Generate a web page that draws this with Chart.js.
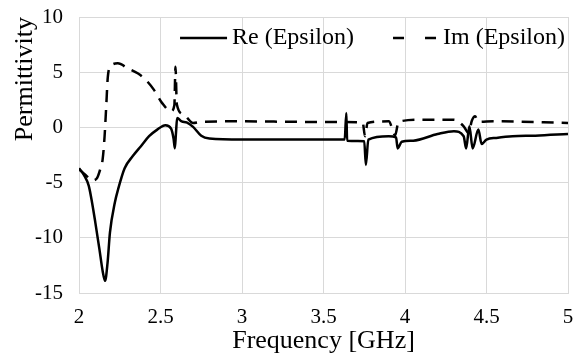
<!DOCTYPE html>
<html>
<head>
<meta charset="utf-8">
<script src="https://cdn.jsdelivr.net/npm/chart.js@4"></script>
<style>
  html, body { margin: 0; padding: 0; background: #fff; }
  #wrap { width: 578px; height: 360px; }
</style>
</head>
<body>
<div id="wrap"><canvas id="permittivity" width="578" height="360"></canvas></div>
<script>
const ctx = document.getElementById("permittivity").getContext("2d");

// Real part of epsilon: frequency (GHz) / value
const reFreq = [2.00, 2.03, 2.06, 2.08, 2.10, 2.125, 2.145, 2.16, 2.175, 2.19, 2.22, 2.24, 2.28, 2.33, 2.38, 2.43, 2.48, 2.53, 2.565, 2.58, 2.588, 2.595, 2.602, 2.63, 2.66, 2.70, 2.75, 2.80, 3.00, 3.30, 3.63, 3.64, 3.645, 3.75, 3.76, 3.775, 3.90, 3.945, 3.955, 3.98, 4.05, 4.20, 4.30, 4.36, 4.375, 4.395, 4.415, 4.45, 4.47, 4.50, 4.56, 4.66, 4.80, 5.00];
const reVal = [-3.7, -4.3, -5.3, -6.8, -8.6, -11.0, -13.0, -13.9, -12.3, -9.5, -6.8, -5.6, -3.7, -2.6, -1.7, -0.8, -0.2, 0.2, -0.1, -1.0, -1.9, -0.5, 0.85, 0.55, 0.45, 0.05, -0.75, -1.0, -1.1, -1.1, -1.1, 1.3, -1.2, -1.25, -3.4, -1.1, -0.8, -0.9, -1.9, -1.3, -1.2, -0.6, -0.35, -0.8, -1.9, 0.1, -1.9, -0.2, -1.5, -1.1, -0.95, -0.8, -0.75, -0.6];

// Imaginary part of epsilon
const imFreq = [2.00, 2.04, 2.08, 2.11, 2.13, 2.145, 2.157, 2.167, 2.177, 2.197, 2.238, 2.30, 2.36, 2.40, 2.46, 2.51, 2.565, 2.585, 2.592, 2.60, 2.64, 2.70, 2.75, 3.00, 3.40, 3.74, 3.755, 3.77, 3.90, 3.94, 3.96, 4.10, 4.30, 4.36, 4.39, 4.41, 4.43, 4.45, 4.55, 5.00];
const imVal = [-3.8, -4.3, -4.8, -4.6, -3.8, -2.9, -0.8, 1.9, 4.6, 5.6, 5.8, 5.35, 4.9, 4.45, 3.4, 2.2, 1.45, 2.0, 5.5, 2.1, 1.2, 0.4, 0.5, 0.55, 0.5, 0.45, -0.8, 0.4, 0.55, -0.7, 0.5, 0.7, 0.7, 0.1, -0.5, 0.6, 1.0, 0.5, 0.55, 0.4];

const xTicks = [2, 2.5, 3, 3.5, 4, 4.5, 5];
const yTicks = [-15, -10, -5, 0, 5, 10];

const seriesLabels = ["Re (Epsilon)", "Im (Epsilon)"];

const toPoints = (xs, ys) => xs.map((x, i) => ({ x: x, y: ys[i] }));

const serif = "'Liberation Serif', 'Times New Roman', serif";
const gridColor = "#d9d9d9";

// legend drawn inside the plot, top right
const innerLegend = {
  id: "innerLegend",
  afterDraw(chart) {
    const c = chart.ctx;
    const area = chart.chartArea;
    const y = area.top + 21;
    c.save();
    c.font = "24px " + serif;
    c.fillStyle = "#000";
    c.textBaseline = "middle";
    c.strokeStyle = "#000";
    c.lineWidth = 2.5;

    const imW = c.measureText(seriesLabels[1]).width;
    const imLeft = area.right - 3 - imW;
    c.fillText(seriesLabels[1], imLeft, y);
    c.setLineDash([11, 21]);
    c.beginPath();
    c.moveTo(imLeft - 50, y);
    c.lineTo(imLeft - 6, y);
    c.stroke();

    const reW = c.measureText(seriesLabels[0]).width;
    const reLeft = imLeft - 50 - 39 - reW;
    c.fillText(seriesLabels[0], reLeft, y);
    c.setLineDash([]);
    c.beginPath();
    c.moveTo(reLeft - 52, y);
    c.lineTo(reLeft - 5, y);
    c.stroke();
    c.restore();
  }
};

new Chart(ctx, {
  type: "line",
  data: {
    datasets: [
      {
        label: seriesLabels[0],
        data: toPoints(reFreq, reVal),
        borderColor: "#000",
        borderWidth: 2.5,
        pointRadius: 0,
        cubicInterpolationMode: "monotone",
        fill: false,
      },
      {
        label: seriesLabels[1],
        data: toPoints(imFreq, imVal),
        borderColor: "#000",
        borderWidth: 2.5,
        borderDash: [12, 8],
        pointRadius: 0,
        cubicInterpolationMode: "monotone",
        fill: false,
      },
    ],
  },
  options: {
    responsive: false,
    animation: false,
    layout: { padding: { top: 17, right: 10, left: 0, bottom: 0 } },
    plugins: {
      legend: { display: false },
      tooltip: { enabled: false },
    },
    scales: {
      x: {
        type: "linear",
        min: 2,
        max: 5,
        afterBuildTicks: (scale) => { scale.ticks = xTicks.map((v) => ({ value: v })); },
        afterFit: (scale) => {
          scale.height = 67;
          scale.paddingLeft = 0;
          scale.paddingRight = 0;
        },
        grid: { color: gridColor, drawTicks: false },
        border: { color: gridColor },
        ticks: { color: "#000", font: { family: serif, size: 21 }, padding: 12, maxRotation: 0, callback: (v) => String(v) },
        title: {
          display: true,
          text: "Frequency [GHz]",
          color: "#000",
          font: { family: serif, size: 26 },
          padding: { top: 0, bottom: 3 },
        },
      },
      y: {
        min: -15,
        max: 10,
        afterBuildTicks: (scale) => { scale.ticks = yTicks.map((v) => ({ value: v })); },
        afterFit: (scale) => {
          scale.width = 79;
          scale.paddingTop = 0;
          scale.paddingBottom = 0;
        },
        grid: { color: gridColor, drawTicks: false },
        border: { color: gridColor },
        ticks: { color: "#000", font: { family: serif, size: 21 }, padding: 16, callback: (v) => String(v) },
        title: {
          display: true,
          text: "Permittivity",
          align: "end",
          color: "#000",
          font: { family: serif, size: 26 },
          padding: { top: 10, bottom: 0 },
        },
      },
    },
  },
  plugins: [innerLegend],
});
</script>
</body>
</html>
